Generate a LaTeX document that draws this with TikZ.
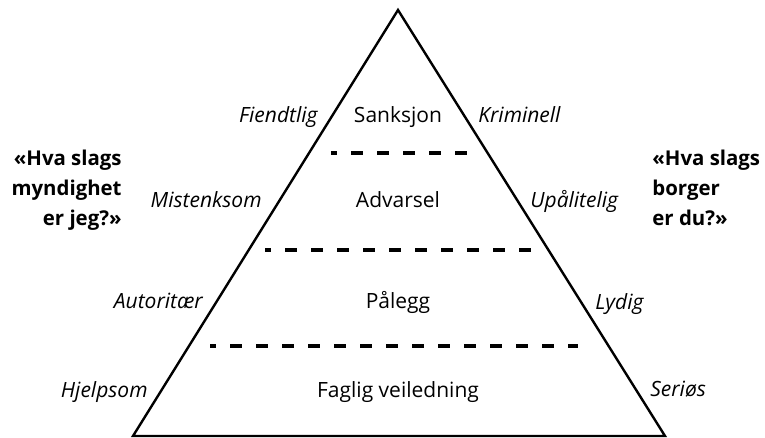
\documentclass[tikz,border=0pt]{standalone}
\usepackage{fontspec}
\setmainfont{Open Sans}
\usepackage{tikz}
\usetikzlibrary{positioning,calc}
\definecolor{ink}{HTML}{000000}
\tikzset{
  lvl/.style   ={inner sep=0pt, font=\fontsize{10.5}{12}\selectfont, text=ink},
  side/.style  ={lvl, font=\fontsize{10.5}{12}\selectfont\itshape},
  quest/.style ={inner sep=0pt, font=\fontsize{10.2}{14.8}\selectfont\bfseries, text=ink},
  tri/.style   ={draw=ink, line width=1.2pt, line join=miter},
  cut/.style   ={draw=ink, line width=2pt, dash pattern=on 6pt off 7pt, dash phase=3pt},
}
\begin{document}
\begin{tikzpicture}[x=0.5pt,y=-0.5pt]
  \useasboundingbox (0,0) rectangle (765,438);
  % --- pyramid ---
  \coordinate (top) at (398,10);
  \coordinate (bl) at (133,436);
  \coordinate (br) at (665,436);
  \draw[tri] (top) -- (bl) -- (br) -- cycle;
  % dashed cuts between the levels
  \draw[cut] (331,153) -- (470,153);
  \draw[cut] (265,250) -- (533,250);
  \draw[cut] (210,346) -- (578,346);
  % --- levels ---
  \node[lvl, anchor=base] (sank) at (398,123) {Sanksjon};
  \node[lvl, anchor=base] (adv)  at (398,208) {Advarsel};
  \node[lvl, anchor=base] (pal)  at (398,308) {Pålegg};
  \node[lvl, anchor=base] (fag)  at (398,397) {Faglig veiledning};
  % --- left side: authority ---
  \node[side, anchor=base east] (fiend) at (318,123) {Fiendtlig};
  \node[side, anchor=base east] (mist)  at (262,208) {Mistenksom};
  \node[side, anchor=base east] (aut)   at (203,308) {Autoritær};
  \node[side, anchor=base east] (hjelp) at (148,397) {Hjelpsom};
  % --- right side: citizen ---
  \node[side, anchor=base west] (krim) at (478,123) {Kriminell};
  \node[side, anchor=base west] (upal) at (530,208) {Upålitelig};
  \node[side, anchor=base west] (lyd)  at (595,309) {Lydig};
  \node[side, anchor=base west] (ser)  at (650,396) {Seriøs};
  % --- questions ---
  \node[quest, align=right, anchor=north east] (qmy) at (122,150)
       {«Hva slags\\myndighet\\er jeg?»};
  \node[quest, align=left, anchor=north west] (qbo) at (652,150)
       {«Hva slags\\borger\\er du?»};
\end{tikzpicture}
\end{document}
